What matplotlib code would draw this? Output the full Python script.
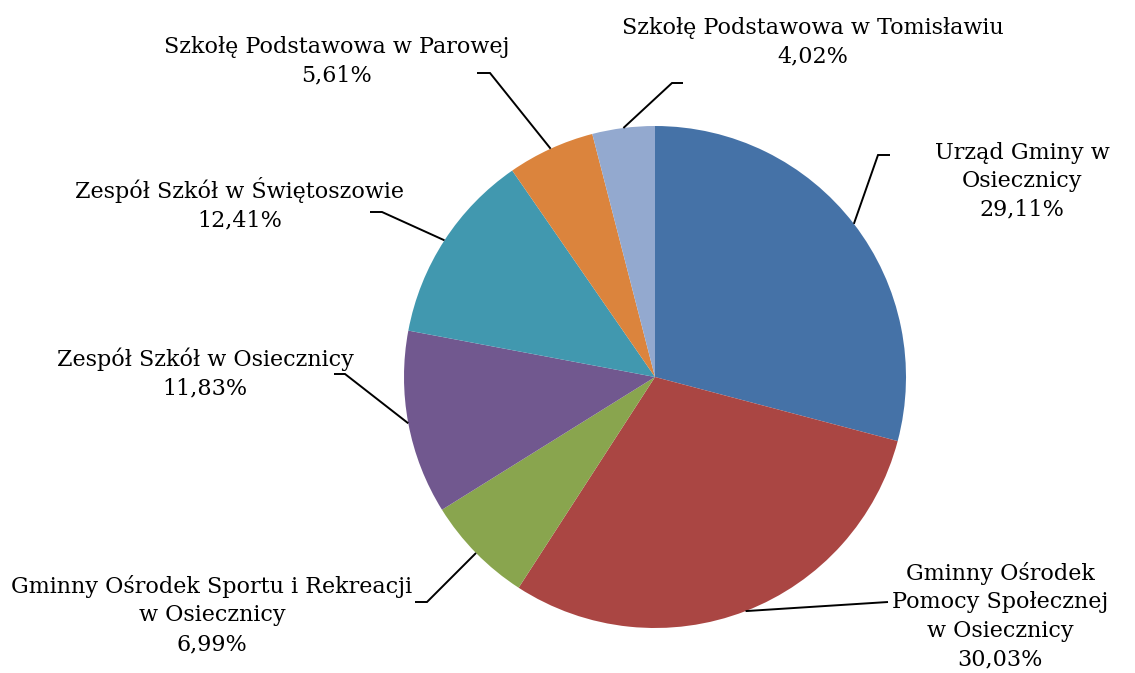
"""
Udzial jednostek w strukturze (wykres kolowy z etykietami i liniami odniesienia).
"""

import numpy as np
import matplotlib
matplotlib.use("Agg")
import matplotlib.pyplot as plt

# dane
labels = [
    "Urząd Gminy w\nOsiecznicy",
    "Gminny Ośrodek\nPomocy Społecznej\nw Osiecznicy",
    "Gminny Ośrodek Sportu i Rekreacji\nw Osiecznicy",
    "Zespół Szkół w Osiecznicy",
    "Zespół Szkół w Świętoszowie",
    "Szkołę Podstawowa w Parowej",
    "Szkołę Podstawowa w Tomisławiu",
]
shares = [29.11, 30.03, 6.99, 11.83, 12.41, 5.61, 4.02]
colors = ["#4572A7", "#AA4643", "#89A54E", "#71588F", "#4198AF", "#DB843D", "#93A9CF"]

# geometria w pikselach obrazu (1135x673)
W, H = 1135, 673
CX, CY, R = 655, 377, 251

# srodek bloku tekstu, kolano linii odniesienia, koniec odcinka poziomego (piksele)
text_px = [(1022, 181), (1000, 616), (212, 615), (205, 373), (240, 204), (337, 61), (813, 42)]
elbow_px = [(878, 155), (888, 602), (427, 602), (345, 374), (382, 212), (490, 73), (672, 83)]
hend_px = [890, 888, 415, 334, 370, 477, 683]


def to_data(px, py):
    return (px - CX) / R, (CY - py) / R


def main():
    plt.rcParams["font.family"] = ["DejaVu Serif"]
    fig = plt.figure(figsize=(W / 100, H / 100), dpi=100)
    ax = fig.add_axes([0, 0, 1, 1])

    wedges, _ = ax.pie(shares, colors=colors, startangle=90, counterclock=False,
                       radius=1.0, center=(0, 0), frame=True,
                       wedgeprops=dict(linewidth=0))
    ax.set_xlim(-CX / R, (W - CX) / R)
    ax.set_ylim(-(H - CY) / R, CY / R)
    ax.set_aspect("equal")
    ax.axis("off")

    for w, lab, val, tp, ep, hx in zip(wedges, labels, shares, text_px, elbow_px, hend_px):
        ang = np.deg2rad((w.theta1 + w.theta2) / 2)
        x0, y0 = np.cos(ang), np.sin(ang)
        ex, ey = to_data(*ep)
        hxd, _ = to_data(hx, ep[1])
        ax.plot([x0, ex, hxd], [y0, ey, ey], color="black", linewidth=1.4,
                solid_capstyle="butt", solid_joinstyle="miter")
        tx, ty = to_data(*tp)
        txt = lab + "\n" + f"{val:.2f}%".replace(".", ",")
        ax.text(tx, ty, txt, ha="center", va="center", fontsize=16,
                linespacing=1.38, color="black")

    fig.savefig("out.png", dpi=100)
    plt.close(fig)


if __name__ == "__main__":
    main()
